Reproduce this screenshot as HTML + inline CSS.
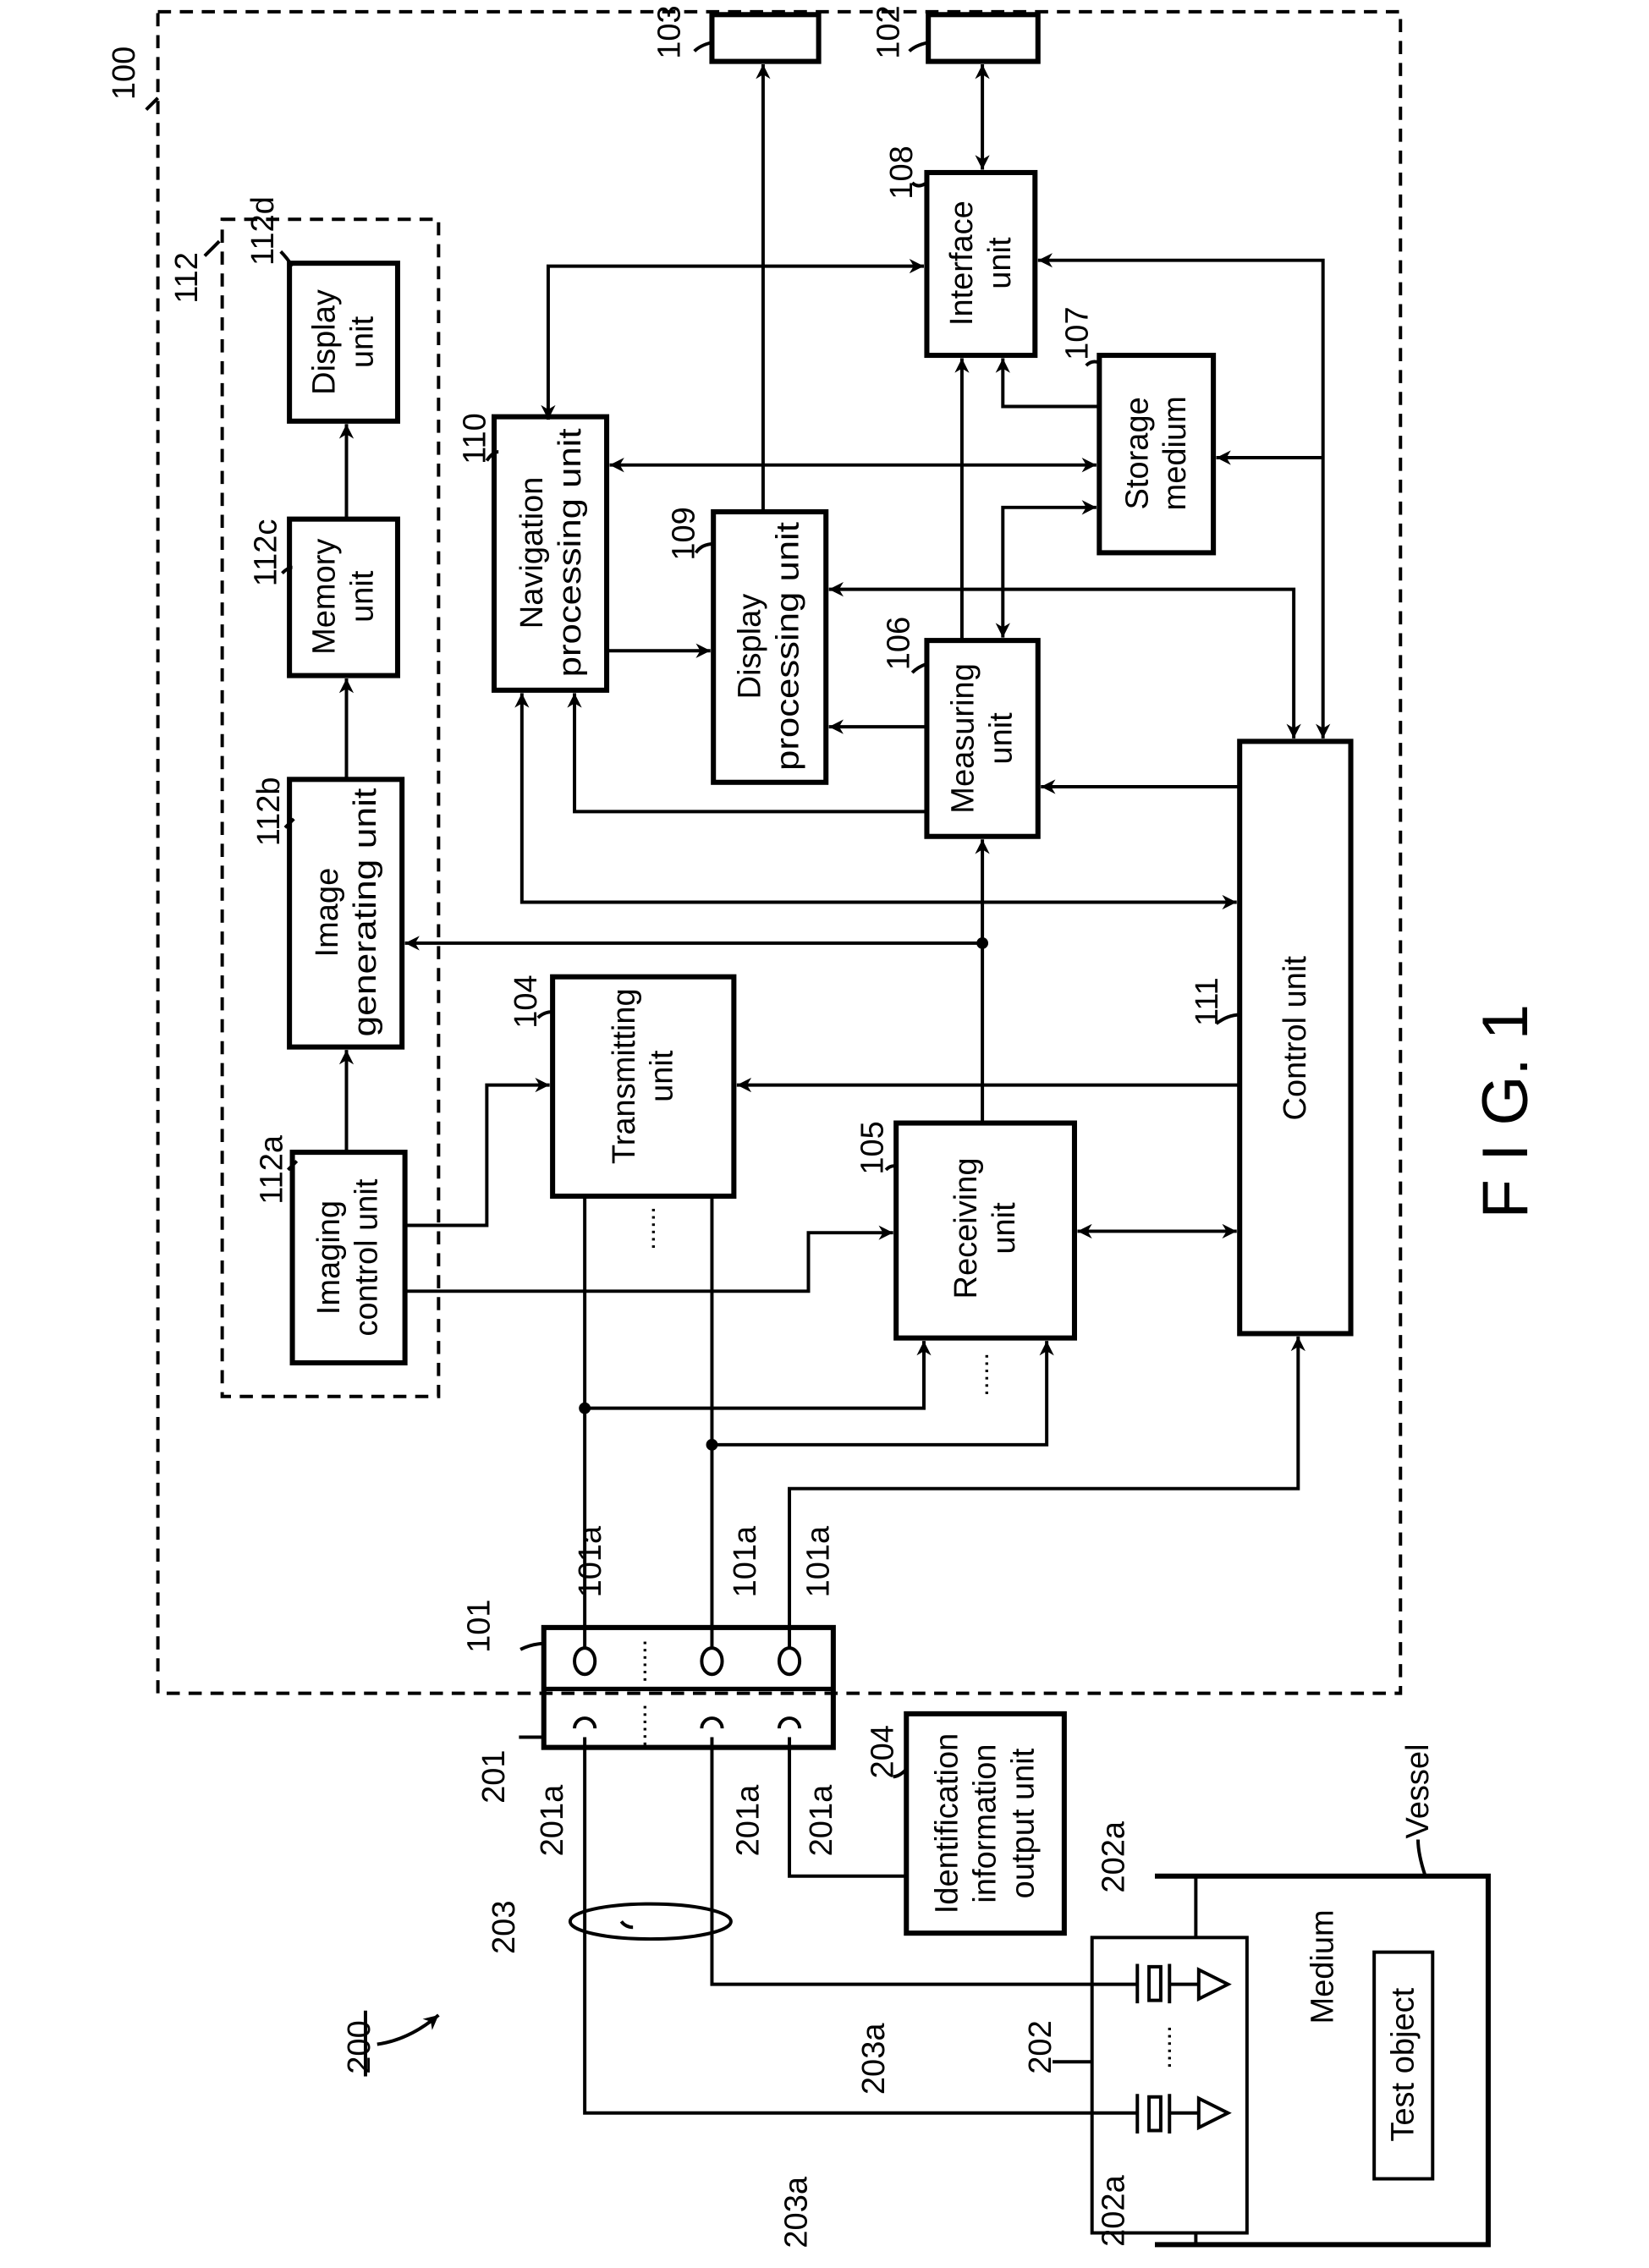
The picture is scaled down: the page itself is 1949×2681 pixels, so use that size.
<!DOCTYPE html>
<html><head><meta charset="utf-8"><style>
html,body{margin:0;padding:0;background:#fff;}
svg{display:block;}
text{font-family:"Liberation Sans",sans-serif;fill:#000;}
</style></head><body>
<svg width="1949" height="2681" viewBox="0 0 1128 1551" preserveAspectRatio="none" xmlns="http://www.w3.org/2000/svg">
<defs>
<marker id="a" viewBox="0 0 10 10" refX="10" refY="5" markerWidth="10" markerHeight="10" orient="auto-start-reverse" markerUnits="userSpaceOnUse"><path d="M0,0 L10,5 L0,10 L3,5 z" fill="#000"/></marker>
</defs>
<g fill="none" stroke="#000" stroke-width="2.3">
<rect x="108" y="8" width="850" height="1150" stroke-dasharray="9,6"/>
<rect x="152" y="150" width="148" height="805" stroke-dasharray="9,6"/>
<g stroke-width="3.5">
<rect x="198" y="180" width="74" height="108"/>
<rect x="198" y="355" width="74" height="107"/>
<rect x="198" y="533" width="77" height="183"/>
<rect x="200" y="788" width="77" height="144"/>
<rect x="338" y="285" width="77" height="187"/>
<rect x="488" y="350" width="77" height="185"/>
<rect x="634" y="118" width="74" height="125"/>
<rect x="752" y="243" width="78" height="135"/>
<rect x="634" y="438" width="76" height="134"/>
<rect x="378" y="668" width="124" height="150"/>
<rect x="613" y="768" width="122" height="147"/>
<rect x="848" y="507" width="76" height="405"/>
<rect x="487" y="10" width="73" height="32"/>
<rect x="635" y="10" width="75" height="32"/>
<rect x="372" y="1113" width="198" height="82"/>
<rect x="620" y="1172" width="108" height="150"/>
</g>
<line x1="372" y1="1155" x2="570" y2="1155" stroke-width="3"/>
<ellipse cx="400" cy="1136" rx="7" ry="9"/>
<ellipse cx="487" cy="1136" rx="7" ry="9"/>
<ellipse cx="540" cy="1136" rx="7" ry="9"/>
<path d="M393,1182 a7,7 0 0 1 14,0 M480,1182 a7,7 0 0 1 14,0 M533,1182 a7,7 0 0 1 14,0"/>
<path d="M400,1127 V818"/><path d="M487,1127 V818"/>
<path d="M400,963 H632 V917" marker-end="url(#a)"/>
<path d="M487,988 H716 V917" marker-end="url(#a)"/>
<path d="M540,1127 V1018 H888 V914" marker-end="url(#a)"/>
<path d="M277,838 H333 V742 H376" marker-end="url(#a)"/>
<path d="M277,883 H553 V843 H611" marker-end="url(#a)"/>
<path d="M237,788 V718" marker-end="url(#a)"/>
<path d="M237,533 V464" marker-end="url(#a)"/>
<path d="M237,355 V290" marker-end="url(#a)"/>
<path d="M672,768 V574" marker-end="url(#a)"/>
<path d="M672,645 H277" marker-end="url(#a)"/>
<path d="M737,842 H846" marker-start="url(#a)" marker-end="url(#a)"/>
<path d="M848,742 H504" marker-end="url(#a)"/>
<path d="M846,617 H357 V474" marker-start="url(#a)" marker-end="url(#a)"/>
<path d="M634,555 H393 V474" marker-end="url(#a)"/>
<path d="M848,538 H712" marker-end="url(#a)"/>
<path d="M634,497 H567" marker-end="url(#a)"/>
<path d="M885,505 V403 H567" marker-start="url(#a)" marker-end="url(#a)"/>
<path d="M905,505 V178 H710" marker-start="url(#a)" marker-end="url(#a)"/>
<path d="M905,313 H832" marker-end="url(#a)"/>
<path d="M632,182 H375 V287" marker-start="url(#a)" marker-end="url(#a)"/>
<path d="M417,318 H750" marker-start="url(#a)" marker-end="url(#a)"/>
<path d="M415,445 H486" marker-end="url(#a)"/>
<path d="M522,350 V44" marker-end="url(#a)"/>
<path d="M658,438 V245" marker-end="url(#a)"/>
<path d="M686,436 V347 H750" marker-start="url(#a)" marker-end="url(#a)"/>
<path d="M752,278 H686 V245" marker-end="url(#a)"/>
<path d="M672,116 V44" marker-start="url(#a)" marker-end="url(#a)"/>
<path d="M540,1188 V1283 H620"/>
<path d="M400,1188 V1445 H778"/>
<path d="M487,1188 V1357 H778"/>
<ellipse cx="445" cy="1314" rx="55" ry="12"/>
<rect x="747" y="1325" width="106" height="202"/>
<path d="M790,1283 H1018 V1535 H790" stroke-width="3.5"/>
<path d="M818,1283 V1325 M818,1527 V1535"/>
<rect x="940" y="1335" width="40" height="155"/>
<path d="M778,1343 V1370 M786,1345 h8 v23 h-8 z M800,1343 V1370 M800,1357 H820 M820,1347 L840,1357 L820,1367 z"/>
<path d="M778,1432 V1459 M786,1434 h8 v23 h-8 z M800,1432 V1459 M800,1445 H820 M820,1435 L840,1445 L820,1455 z"/>
<path d="M258,1398 Q280,1395 300,1378" marker-end="url(#a)"/>
<line x1="250" y1="1375" x2="250" y2="1420"/>
<path d="M100,75 q5,-5 8,-8 M140,175 q5,-5 10,-10 M192,172 q4,4 8,10 M193,392 q4,-4 7,-4 M195,566 q4,-4 6,-6 M197,800 q4,-4 6,-6 M333,315 q4,-6 8,-6 M476,378 q4,-6 12,-6 M624,125 q4,4 10,0 M743,250 q4,-4 9,-2 M624,460 q4,-4 10,-6 M368,696 q4,-4 10,-4 M606,800 q4,-4 8,-2 M832,700 q8,-6 16,-6 M475,35 q4,-4 12,-6 M622,35 q4,-4 13,-6 M356,1128 q8,-4 16,-4 M355,1188 q8,0 17,0 M611,1215 q4,0 9,-5 M970,1258 q0,10 5,25 M720,1410 q12,0 27,0 M433,1318 q-5,0 -8,-4"/>
</g>
<circle cx="400" cy="963" r="4"/><circle cx="487" cy="988" r="4"/><circle cx="672" cy="645" r="4"/>
<g font-size="22" text-anchor="middle" dominant-baseline="central">
<g transform="translate(235,234) rotate(-90)"><text y="-13">Display</text><text y="13">unit</text></g>
<g transform="translate(235,408) rotate(-90)"><text y="-13">Memory</text><text y="13">unit</text></g>
<g transform="translate(237,624) rotate(-90)"><text y="-13">Image</text><text y="13" textLength="170" lengthAdjust="spacingAndGlyphs">generating unit</text></g>
<g transform="translate(238,860) rotate(-90)"><text y="-13">Imaging</text><text y="13">control unit</text></g>
<g transform="translate(377,378) rotate(-90)"><text y="-13">Navigation</text><text y="13" textLength="170" lengthAdjust="spacingAndGlyphs">processing unit</text></g>
<g transform="translate(526,442) rotate(-90)"><text y="-13">Display</text><text y="13" textLength="170" lengthAdjust="spacingAndGlyphs">processing unit</text></g>
<g transform="translate(671,180) rotate(-90)"><text y="-13">Interface</text><text y="13">unit</text></g>
<g transform="translate(791,310) rotate(-90)"><text y="-13">Storage</text><text y="13">medium</text></g>
<g transform="translate(672,505) rotate(-90)"><text y="-13">Measuring</text><text y="13">unit</text></g>
<g transform="translate(440,736) rotate(-90)"><text y="-13">Transmitting</text><text y="13">unit</text></g>
<g transform="translate(674,840) rotate(-90)"><text y="-13">Receiving</text><text y="13">unit</text></g>
<g transform="translate(886,710) rotate(-90)"><text>Control unit</text></g>
<g transform="translate(674,1247) rotate(-90)"><text y="-26">Identification</text><text y="0">information</text><text y="26">output unit</text></g>
<g transform="translate(905,1345) rotate(-90)"><text>Medium</text></g>
<g transform="translate(960,1412) rotate(-90)"><text>Test object</text></g>
<g transform="translate(1030,760) rotate(-90)"><text font-size="44">F I G. 1</text></g>
<text transform="translate(442,840) rotate(-90)" font-size="18">......</text>
<text transform="translate(670,940) rotate(-90)" font-size="18">......</text>
<text transform="translate(436,1136) rotate(-90)" font-size="18">......</text>
<text transform="translate(436,1180) rotate(-90)" font-size="18">......</text>
<text transform="translate(795,1400) rotate(-90)" font-size="18">......</text>
<g font-size="22">
<text transform="translate(85,50) rotate(-90)">100</text>
<text transform="translate(128,190) rotate(-90)">112</text>
<text transform="translate(180,158) rotate(-90)">112d</text>
<text transform="translate(182,378) rotate(-90)">112c</text>
<text transform="translate(184,555) rotate(-90)">112b</text>
<text transform="translate(186,800) rotate(-90)">112a</text>
<text transform="translate(325,300) rotate(-90)">110</text>
<text transform="translate(468,365) rotate(-90)">109</text>
<text transform="translate(617,118) rotate(-90)">108</text>
<text transform="translate(737,228) rotate(-90)">107</text>
<text transform="translate(615,440) rotate(-90)">106</text>
<text transform="translate(360,685) rotate(-90)">104</text>
<text transform="translate(597,785) rotate(-90)">105</text>
<text transform="translate(826,685) rotate(-90)">111</text>
<text transform="translate(458,22) rotate(-90)">103</text>
<text transform="translate(608,22) rotate(-90)">102</text>
<text transform="translate(328,1112) rotate(-90)">101</text>
<text transform="translate(404,1068) rotate(-90)">101a</text>
<text transform="translate(510,1068) rotate(-90)">101a</text>
<text transform="translate(560,1068) rotate(-90)">101a</text>
<text transform="translate(338,1215) rotate(-90)">201</text>
<text transform="translate(378,1245) rotate(-90)">201a</text>
<text transform="translate(512,1245) rotate(-90)">201a</text>
<text transform="translate(562,1245) rotate(-90)">201a</text>
<text transform="translate(604,1198) rotate(-90)">204</text>
<text transform="translate(762,1270) rotate(-90)">202a</text>
<text transform="translate(762,1512) rotate(-90)">202a</text>
<text transform="translate(970,1225) rotate(-90)">Vessel</text>
<text transform="translate(345,1318) rotate(-90)">203</text>
<text transform="translate(598,1408) rotate(-90)">203a</text>
<text transform="translate(545,1513) rotate(-90)">203a</text>
<text transform="translate(712,1400) rotate(-90)">202</text>
<text transform="translate(246,1400) rotate(-90)">200</text>
</g>
</g>
</svg>
</body></html>
